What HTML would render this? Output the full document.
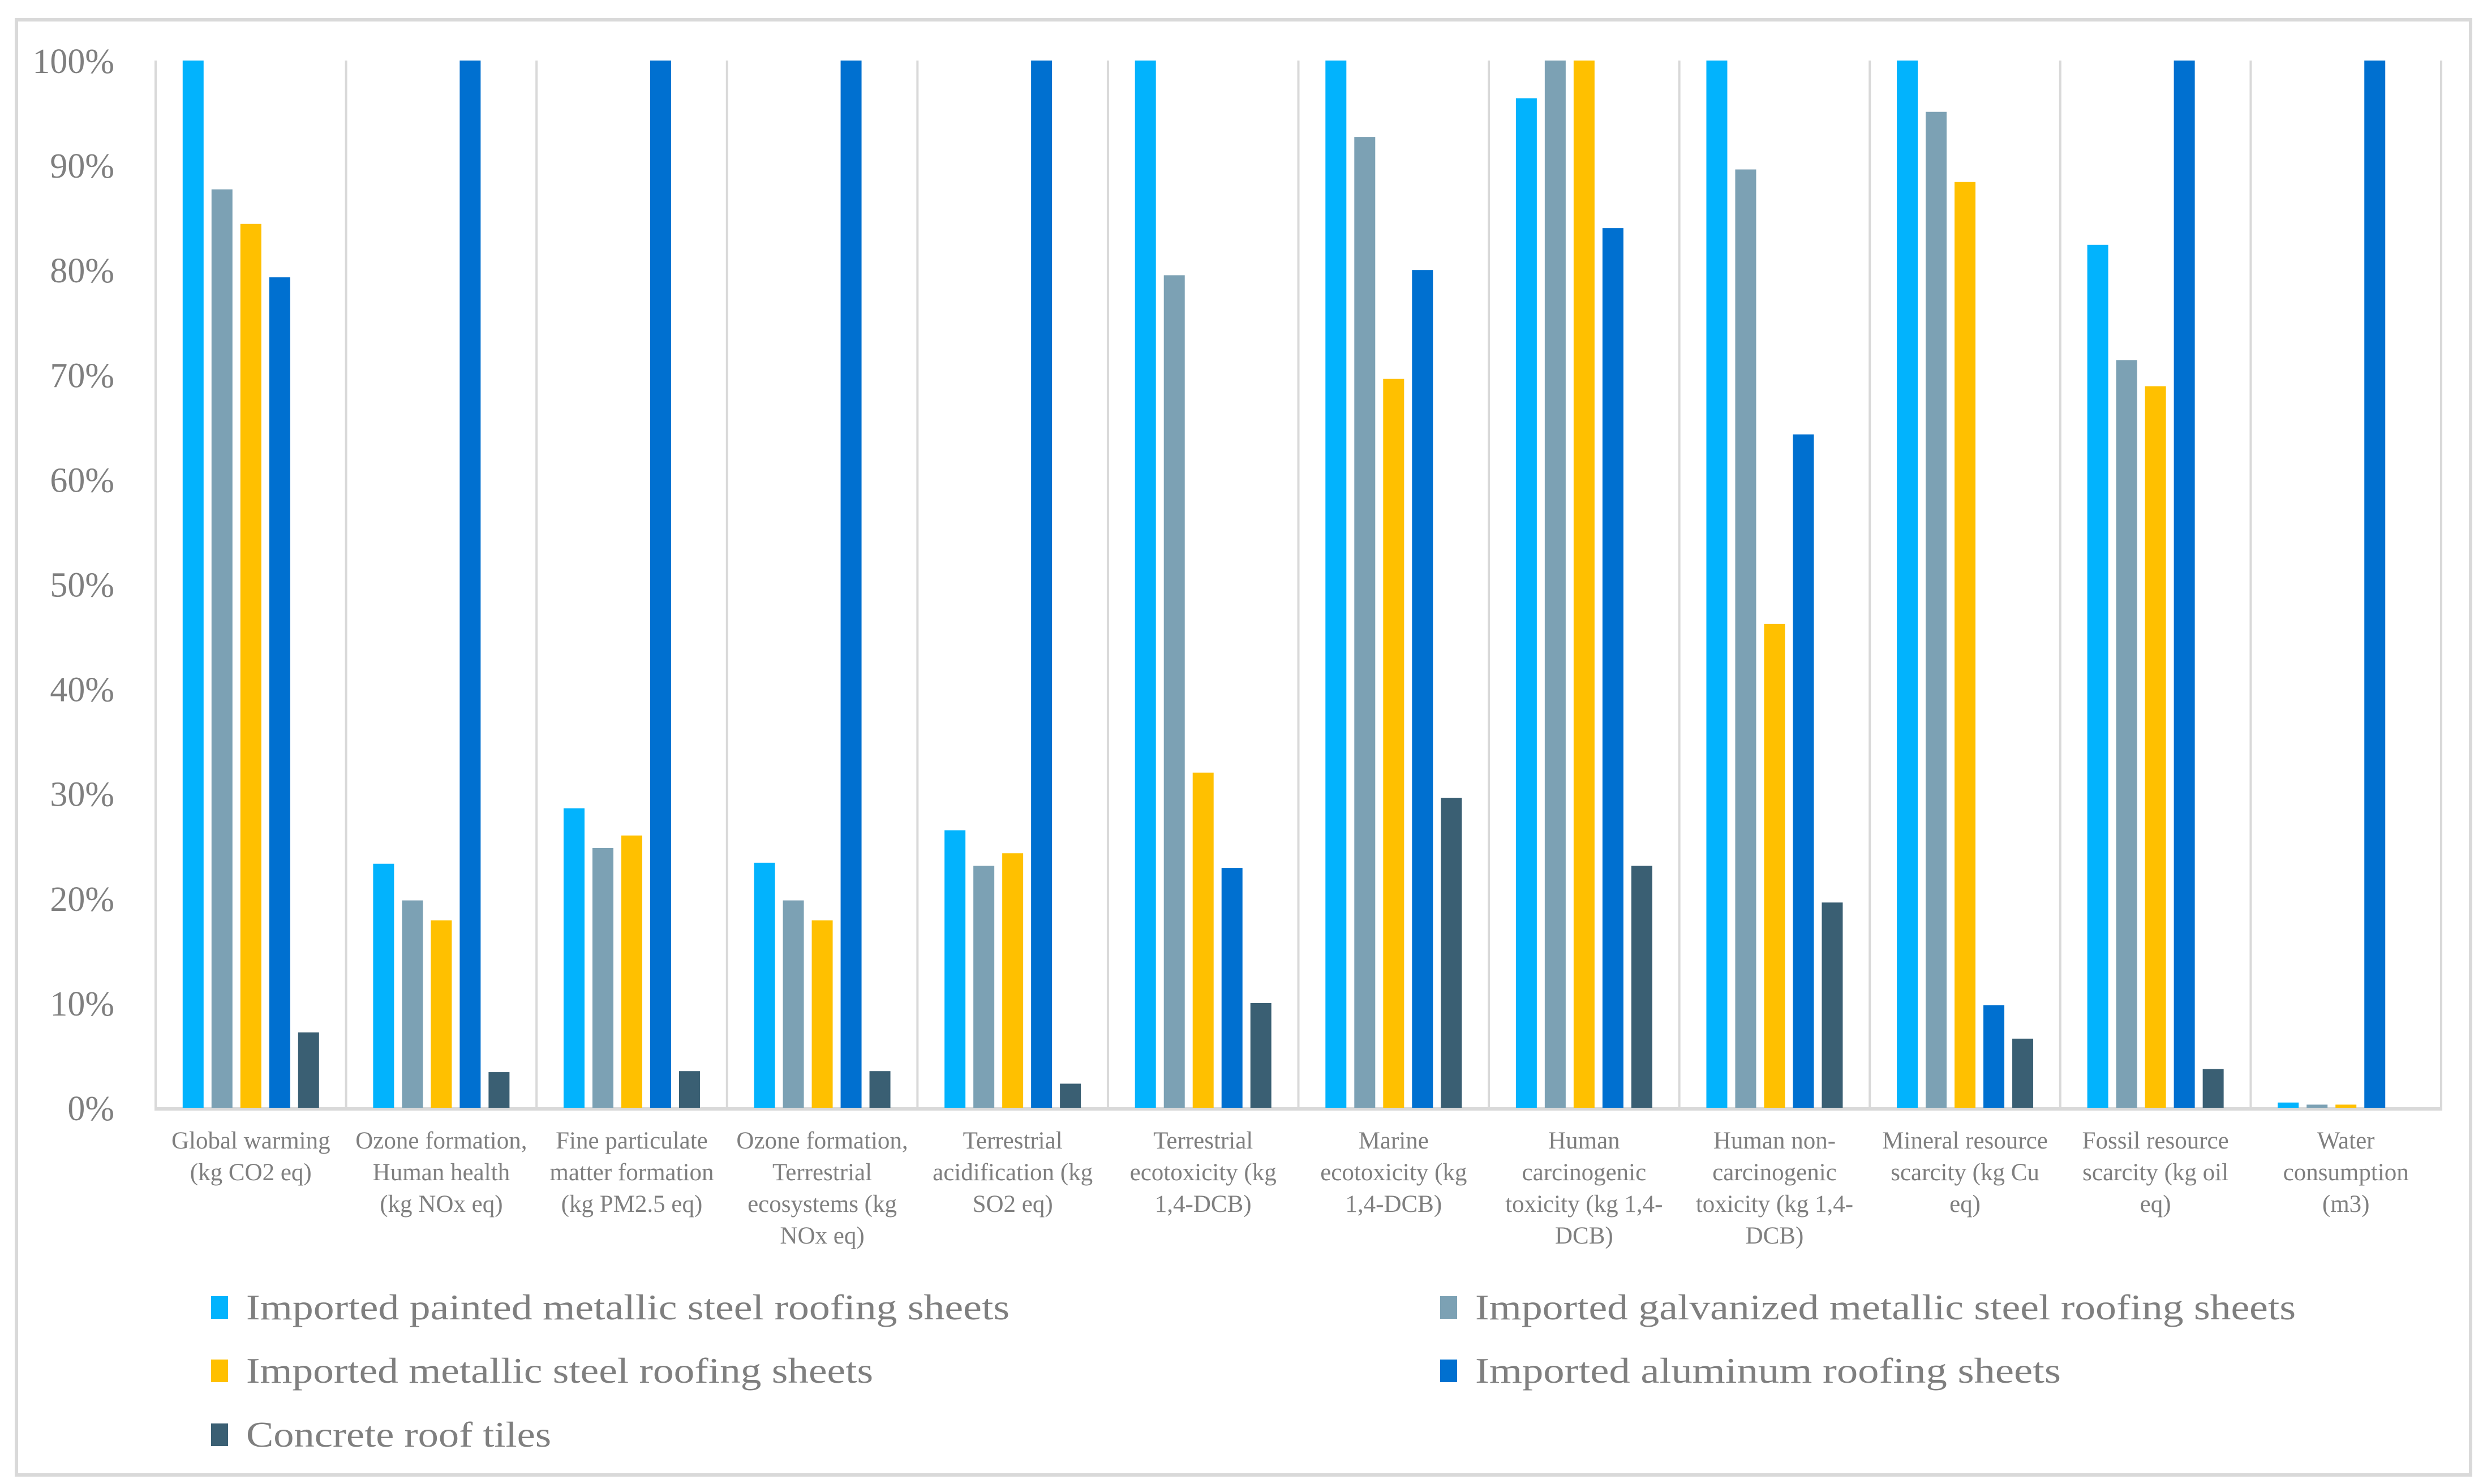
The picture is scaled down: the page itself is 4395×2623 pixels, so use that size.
<!DOCTYPE html>
<html><head><meta charset="utf-8"><style>
html,body{margin:0;padding:0;background:#fff}
svg{display:block}
text{font-family:"Liberation Serif",serif;fill:#7f7f7f}
</style></head><body>
<svg id="chart" width="4395" height="2623" viewBox="0 0 4395 2623" xmlns="http://www.w3.org/2000/svg">
<rect x="29" y="35" width="4337" height="2572" fill="#fff" stroke="#d9d9d9" stroke-width="6"/>
<g id="grid"></g><g id="bars"></g><g id="yticks"></g><g id="xlabels"></g><g id="legend"></g>
</svg>
<script>
const categories = [
 ["Global warming","(kg CO2 eq)"],
 ["Ozone formation,","Human health","(kg NOx eq)"],
 ["Fine particulate","matter formation","(kg PM2.5 eq)"],
 ["Ozone formation,","Terrestrial","ecosystems (kg","NOx eq)"],
 ["Terrestrial","acidification (kg","SO2 eq)"],
 ["Terrestrial","ecotoxicity (kg","1,4-DCB)"],
 ["Marine","ecotoxicity (kg","1,4-DCB)"],
 ["Human","carcinogenic","toxicity (kg 1,4-","DCB)"],
 ["Human non-","carcinogenic","toxicity (kg 1,4-","DCB)"],
 ["Mineral resource","scarcity (kg Cu","eq)"],
 ["Fossil resource","scarcity (kg oil","eq)"],
 ["Water","consumption","(m3)"]
];
const seriesNames = ["Imported painted metallic steel roofing sheets","Imported galvanized metallic steel roofing sheets","Imported metallic steel roofing sheets","Imported aluminum roofing sheets","Concrete roof tiles"];
const paintedSteel = [100,23.3,28.6,23.4,26.5,100,100,96.4,100,100,82.4,0.5];
const galvanizedSteel = [87.7,19.8,24.8,19.8,23.1,79.5,92.7,100,89.6,95.1,71.4,0.3];
const metallicSteel = [84.4,17.9,26.0,17.9,24.3,32.0,69.6,100,46.2,88.4,68.9,0.3];
const aluminum = [79.3,100,100,100,100,22.9,80.0,84.0,64.3,9.8,100,100];
const concreteTiles = [7.2,3.4,3.5,3.5,2.3,10.0,29.6,23.1,19.6,6.6,3.7,0];
const yTicks = [0,10,20,30,40,50,60,70,80,90,100];

const series = [paintedSteel,galvanizedSteel,metallicSteel,aluminum,concreteTiles];
const colors = ["#02b3fd","#7ca1b4","#ffc000","#0070d0","#3a5f73"];
const legendWidths = [1349,1450,1108,1035,539];
const NS="http://www.w3.org/2000/svg";
const X0=275, X1=4314, Y0=1958, Y1=107;
const catW=(X1-X0)/categories.length;
const yScale=v=>Y0-(v/100)*(Y0-Y1);
const xCat=i=>X0+i*catW;
function mk(tag,attrs,parent){const e=document.createElementNS(NS,tag);for(const k in attrs)e.setAttribute(k,attrs[k]);parent.appendChild(e);return e;}
const grid=document.getElementById('grid'),bars=document.getElementById('bars'),yt=document.getElementById('yticks'),xl=document.getElementById('xlabels'),lg=document.getElementById('legend');
for(let i=0;i<=categories.length;i++){
 const l=mk('line',{x1:xCat(i),x2:xCat(i),y1:Y1,y2:Y0,stroke:'#d9d9d9','stroke-width':4},grid);
 
 
}
const ax=mk('line',{x1:X0-2,x2:X1+2,y1:Y0+2,y2:Y0+2,stroke:'#d9d9d9','stroke-width':6},grid);


const bw=37, step=51, off=(catW-(step*4+bw))/2;
categories.forEach((c,i)=>{
 series.forEach((s,j)=>{
  const v=s[i], y=yScale(v);
  const r=mk('rect',{x:xCat(i)+off+j*step,y:y,width:bw,height:Y0-y,fill:colors[j]},bars);
  
  
 });
 c.forEach((line,k)=>{
  const t=mk('text',{x:xCat(i)+catW/2,y:2030+k*56,'text-anchor':'middle','font-size':43},xl);
  t.textContent=line;
  
  
 });
});
yTicks.forEach(v=>{
 const t=mk('text',{x:202,y:yScale(v)+22,'text-anchor':'end','font-size':62},yt);
 t.textContent=v+'%';
 
 
});
const legPos=[[373,2311],[2545,2311],[373,2423],[2545,2423],[373,2536]];
seriesNames.forEach((n,j)=>{
 const [x,y]=legPos[j];
 const g=mk('g',{},lg);
 
 
 const r=mk('rect',{x:x,y:y-20,width:30,height:40,fill:colors[j]},g);
 
 
 const t=mk('text',{x:x+62,y:y+21,'font-size':64,textLength:legendWidths[j],lengthAdjust:'spacingAndGlyphs'},g);
 t.textContent=n;
 
 
});
</script>
</body></html>
